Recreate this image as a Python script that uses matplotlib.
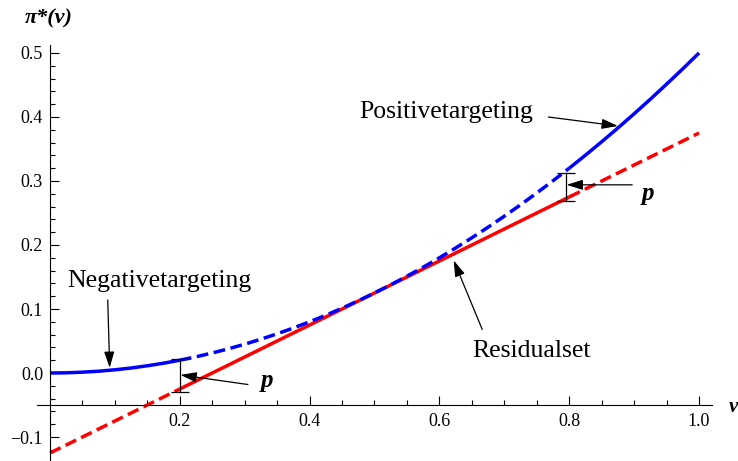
import matplotlib
matplotlib.use("Agg")
import matplotlib.pyplot as plt
from matplotlib.ticker import MultipleLocator, FixedLocator, FuncFormatter

# values
v_pts = [0.000, 0.025, 0.050, 0.075, 0.100, 0.125, 0.150, 0.175, 0.200, 0.225, 0.250,
         0.275, 0.300, 0.325, 0.350, 0.375, 0.400, 0.425, 0.450, 0.475, 0.500,
         0.525, 0.550, 0.575, 0.600, 0.625, 0.650, 0.675, 0.700, 0.725, 0.750,
         0.775, 0.800, 0.825, 0.850, 0.875, 0.900, 0.925, 0.950, 0.975, 1.000]
blue_pts = [0.0000, 0.0003, 0.0013, 0.0028, 0.0050, 0.0078, 0.0113, 0.0153, 0.0200, 0.0253, 0.0313,
            0.0378, 0.0450, 0.0528, 0.0613, 0.0703, 0.0800, 0.0903, 0.1013, 0.1128, 0.1250,
            0.1378, 0.1513, 0.1653, 0.1800, 0.1953, 0.2113, 0.2278, 0.2450, 0.2628, 0.2813,
            0.3003, 0.3200, 0.3403, 0.3613, 0.3828, 0.4050, 0.4278, 0.4513, 0.4753, 0.5000]
red_v = [0.0, 0.2, 0.8, 1.0]
red_pts = [-0.125, -0.025, 0.275, 0.375]

# gap bars (v, low, high)
gap_v = [0.2, 0.795]
gap_lo = [-0.030, 0.268]
gap_hi = [0.022, 0.313]

y_major = [-0.1, 0.0, 0.1, 0.2, 0.3, 0.4, 0.5]
x_major = [0.2, 0.4, 0.6, 0.8, 1.0]

plt.rcParams['font.family'] = ['Liberation Serif', 'DejaVu Serif']

fig = plt.figure(figsize=(7.38, 4.61), dpi=100)
ax = fig.add_axes([37 / 738, 0.0, 675 / 738, 416 / 461])
ax.set_xlim(-0.02, 1.02)
ax.set_ylim(-0.1375, 0.5125)

dash = (3.4, 1.6)
lw = 2.5


def part(xs, ys, lo, hi):
    px = [x for x in xs if lo - 1e-9 <= x <= hi + 1e-9]
    py = [y for x, y in zip(xs, ys) if lo - 1e-9 <= x <= hi + 1e-9]
    return px, py


# red line: dashed outside [0.2, 0.8], solid inside
for lo, hi, dashed in [(0.0, 0.2, True), (0.2, 0.8, False), (0.8, 1.0, True)]:
    px, py = part(red_v, red_pts, lo, hi)
    ln, = ax.plot(px, py, color='#ff0000', lw=lw, solid_capstyle='butt')
    if dashed:
        ln.set_dashes(dash)
        ln.set_dash_capstyle('butt')

# blue curve: solid outside [0.2, 0.8], dashed inside
for lo, hi, dashed in [(0.0, 0.2, False), (0.2, 0.8, True), (0.8, 1.0, False)]:
    px, py = part(v_pts, blue_pts, lo, hi)
    ln, = ax.plot(px, py, color='#0000ff', lw=lw, solid_capstyle='butt')
    if dashed:
        ln.set_dashes(dash)
        ln.set_dash_capstyle('butt')

# the p bars
for x, lo, hi in zip(gap_v, gap_lo, gap_hi):
    ax.plot([x, x], [lo, hi], color='k', lw=0.9, marker='_', markersize=13, markeredgewidth=0.9)

arrow = dict(arrowstyle='-|>,head_length=0.7,head_width=0.22', color='k', lw=0.9,
             shrinkA=0, shrinkB=0, mutation_scale=14)
txt = dict(fontsize=18.5, ha='center', va='baseline')
ptxt = dict(fontsize=18, ha='center', va='center', fontweight='bold', style='italic')

ax.text(0.611, 0.398, 'Positivetargeting', **txt)
ax.annotate('', xy=(0.875, 0.386), xytext=(0.768, 0.400), arrowprops=arrow)

ax.text(0.169, 0.135, 'Negativetargeting', **txt)
ax.annotate('', xy=(0.092, 0.008), xytext=(0.089, 0.114), arrowprops=arrow)

ax.text(0.742, 0.025, 'Residualset', **txt)
ax.annotate('', xy=(0.622, 0.176), xytext=(0.666, 0.068), arrowprops=arrow)

ax.text(0.921, 0.281, 'p', **ptxt)
ax.annotate('', xy=(0.796, 0.294), xytext=(0.897, 0.294), arrowprops=arrow)

ax.text(0.334, -0.012, 'p', **ptxt)
ax.annotate('', xy=(0.201, -0.003), xytext=(0.305, -0.018), arrowprops=arrow)

# axes in the Mathematica style
for s in ['top', 'right']:
    ax.spines[s].set_visible(False)
ax.spines['left'].set_position(('data', 0.0))
ax.spines['bottom'].set_position(('data', -0.05))
for s in ['left', 'bottom']:
    ax.spines[s].set_linewidth(0.8)

fmt = FuncFormatter(lambda val, pos: ('%.1f' % val).replace('-', '\u2212'))
ax.xaxis.set_major_locator(FixedLocator(x_major))
ax.xaxis.set_minor_locator(MultipleLocator(0.05))
ax.yaxis.set_major_locator(FixedLocator(y_major))
ax.yaxis.set_minor_locator(MultipleLocator(0.02))
ax.xaxis.set_major_formatter(fmt)
ax.yaxis.set_major_formatter(fmt)
ax.tick_params(which='major', direction='in', length=6.3, width=0.8, labelsize=13, pad=6)
ax.tick_params(which='minor', direction='in', length=3.6, width=0.8)
ax.tick_params(axis='y', which='major', pad=5)

fig.text(49 / 738, 1 - 18 / 461, 'π*(v)', fontsize=16, fontweight='bold', style='italic',
         ha='center', va='center')
fig.text(733 / 738, 1 - 407 / 461, 'v', fontsize=15, fontweight='bold', style='italic',
         ha='center', va='center')

fig.savefig('out.png', dpi=100)
